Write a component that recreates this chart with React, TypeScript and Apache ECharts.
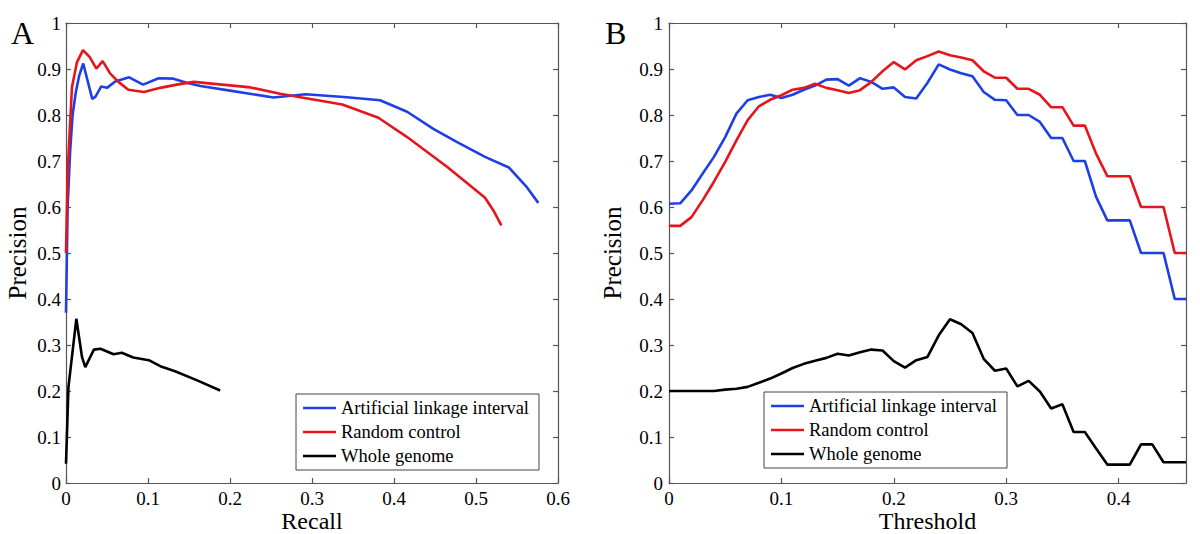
import React, { useEffect, useRef } from "react";
import * as echarts from "echarts";

const SERIES_NAMES = ["Artificial linkage interval", "Random control", "Whole genome"];
const COLORS = ["#1f3fe6", "#e6141b", "#000000"];

// Panel A: precision vs recall
const recallBlue = [0, 0.002, 0.005, 0.008, 0.012, 0.016, 0.021, 0.032, 0.036, 0.043, 0.05, 0.06, 0.077, 0.094, 0.113, 0.131, 0.147, 0.164, 0.2, 0.253, 0.292, 0.339, 0.383, 0.416, 0.448, 0.477, 0.511, 0.54, 0.562, 0.576];
const precisionBlue = [0.37, 0.6, 0.72, 0.8, 0.85, 0.885, 0.912, 0.835, 0.84, 0.862, 0.859, 0.873, 0.882, 0.866, 0.88, 0.879, 0.87, 0.863, 0.853, 0.838, 0.845, 0.839, 0.832, 0.807, 0.77, 0.741, 0.709, 0.686, 0.643, 0.609];
const recallRed = [0, 0.002, 0.0073, 0.0134, 0.0207, 0.029, 0.037, 0.0447, 0.054, 0.064, 0.076, 0.095, 0.115, 0.135, 0.156, 0.225, 0.261, 0.337, 0.381, 0.416, 0.465, 0.489, 0.511, 0.521, 0.531];
const precisionRed = [0.5, 0.676, 0.861, 0.915, 0.941, 0.926, 0.901, 0.917, 0.89, 0.872, 0.855, 0.85, 0.859, 0.866, 0.872, 0.86, 0.846, 0.823, 0.794, 0.752, 0.687, 0.652, 0.62, 0.593, 0.56];
const recallBlack = [0, 0.003, 0.0126, 0.0195, 0.0235, 0.034, 0.042, 0.058, 0.068, 0.082, 0.101, 0.115, 0.133, 0.16, 0.188];
const precisionBlack = [0.042, 0.209, 0.357, 0.274, 0.252, 0.29, 0.292, 0.28, 0.283, 0.273, 0.267, 0.254, 0.243, 0.223, 0.201];

// Panel B: precision vs threshold
const thresholds = [0, 0.01, 0.02, 0.03, 0.04, 0.05, 0.06, 0.07, 0.08, 0.09, 0.1, 0.11, 0.12, 0.13, 0.14, 0.15, 0.16, 0.17, 0.18, 0.19, 0.2, 0.21, 0.22, 0.23, 0.24, 0.25, 0.26, 0.27, 0.28, 0.29, 0.3, 0.31, 0.32, 0.33, 0.34, 0.35, 0.36, 0.37, 0.38, 0.39, 0.4, 0.41, 0.42, 0.43, 0.44, 0.45, 0.46];
const thrBlue = [0.607, 0.608, 0.636, 0.673, 0.709, 0.752, 0.803, 0.832, 0.839, 0.844, 0.837, 0.844, 0.855, 0.864, 0.877, 0.878, 0.864, 0.88, 0.872, 0.857, 0.86, 0.839, 0.836, 0.87, 0.91, 0.899, 0.891, 0.884, 0.85, 0.833, 0.832, 0.8, 0.8, 0.785, 0.75, 0.75, 0.7, 0.7, 0.622, 0.571, 0.571, 0.571, 0.5, 0.5, 0.5, 0.4, 0.4];
const thrRed = [0.559, 0.559, 0.578, 0.615, 0.655, 0.698, 0.745, 0.789, 0.819, 0.833, 0.843, 0.855, 0.859, 0.868, 0.859, 0.854, 0.848, 0.854, 0.872, 0.895, 0.915, 0.899, 0.919, 0.928, 0.938, 0.93, 0.925, 0.919, 0.895, 0.881, 0.881, 0.857, 0.857, 0.844, 0.817, 0.817, 0.777, 0.777, 0.716, 0.667, 0.667, 0.667, 0.6, 0.6, 0.6, 0.5, 0.5];
const thrBlack = [0.2, 0.2, 0.2, 0.2, 0.2, 0.203, 0.205, 0.209, 0.218, 0.227, 0.238, 0.25, 0.259, 0.266, 0.272, 0.281, 0.277, 0.284, 0.29, 0.288, 0.265, 0.251, 0.267, 0.274, 0.321, 0.356, 0.345, 0.326, 0.27, 0.244, 0.249, 0.21, 0.222, 0.199, 0.162, 0.171, 0.111, 0.111, 0.075, 0.04, 0.04, 0.04, 0.084, 0.084, 0.045, 0.045, 0.045];

const FONT = "'Liberation Serif', 'Times New Roman', Times, serif";
const AXIS_COLOR = "#555";

function zip(xs: number[], ys: number[]) {
  return xs.map((x, i) => [x, ys[i]]);
}

export default function App() {
  const ref = useRef<HTMLDivElement>(null);
  useEffect(() => {
    if (!ref.current) return;
    const chart = echarts.init(ref.current, undefined, { renderer: "svg" });

    const axisBase = {
      type: "value" as const,
      axisLine: { show: true, onZero: false, lineStyle: { color: AXIS_COLOR, width: 1.2 } },
      axisTick: { show: true, inside: true, length: 5, lineStyle: { color: AXIS_COLOR, width: 1.2 } },
      splitLine: { show: false },
      nameMoveOverlap: false,
    };
    const labelStyle = { color: "#000", fontFamily: FONT, fontSize: 19, lineHeight: 19 };
    const nameStyle = { color: "#000", fontFamily: FONT, fontSize: 24, lineHeight: 24 };

    const xAxes = [
      { ...axisBase, gridIndex: 0, position: "bottom", min: 0, max: 0.6, interval: 0.1,
        axisLabel: { ...labelStyle, margin: 6 }, name: "Recall", nameLocation: "middle", nameGap: 26, nameTextStyle: nameStyle },
      { ...axisBase, gridIndex: 0, position: "top", min: 0, max: 0.6, interval: 0.1, axisLabel: { show: false } },
      { ...axisBase, gridIndex: 1, position: "bottom", min: 0, max: 0.46, interval: 0.1,
        axisLabel: { ...labelStyle, margin: 6, showMaxLabel: false }, name: "Threshold", nameLocation: "middle", nameGap: 26, nameTextStyle: nameStyle },
      { ...axisBase, gridIndex: 1, position: "top", min: 0, max: 0.46, interval: 0.1, axisLabel: { show: false } },
    ];
    const yAxes = [
      { ...axisBase, gridIndex: 0, position: "left", min: 0, max: 1, interval: 0.1,
        axisLabel: { ...labelStyle, margin: 5 }, name: "Precision", nameLocation: "middle", nameGap: 36, nameTextStyle: { ...nameStyle, fontSize: 25, lineHeight: 25 } },
      { ...axisBase, gridIndex: 0, position: "right", min: 0, max: 1, interval: 0.1, axisLabel: { show: false } },
      { ...axisBase, gridIndex: 1, position: "left", min: 0, max: 1, interval: 0.1,
        axisLabel: { ...labelStyle, margin: 6 }, name: "Precision", nameLocation: "middle", nameGap: 44, nameTextStyle: { ...nameStyle, fontSize: 25, lineHeight: 25 } },
      { ...axisBase, gridIndex: 1, position: "right", min: 0, max: 1, interval: 0.1, axisLabel: { show: false } },
    ];

    const mk = (name: string, color: string, data: number[][], gi: number) => ({
      type: "line" as const,
      name,
      xAxisIndex: gi === 0 ? 0 : 2,
      yAxisIndex: gi === 0 ? 0 : 2,
      data,
      showSymbol: false,
      symbol: "none",
      lineStyle: { color, width: 2.6 },
      itemStyle: { color },
      z: 3,
    });

    const legendBase = {
      orient: "vertical" as const,
      data: SERIES_NAMES.map((n) => ({ name: n, icon: "rect" })),
      backgroundColor: "#fff",
      borderColor: "#444",
      borderWidth: 1,
      padding: [4, 10, 4, 7],
      itemWidth: 33,
      itemHeight: 2.6,
      itemGap: 4,
      selectedMode: false,
      textStyle: { color: "#000", fontFamily: FONT, fontSize: 18.5, lineHeight: 20 },
    };

    chart.setOption({
      animation: false,
      backgroundColor: "#fff",
      textStyle: { fontFamily: FONT },
      title: [
        { text: "A", left: 6, top: 12, textStyle: { fontFamily: FONT, fontSize: 32, fontWeight: "normal", color: "#000" } },
        { text: "B", left: 600, top: 12, textStyle: { fontFamily: FONT, fontSize: 32, fontWeight: "normal", color: "#000" } },
      ],
      grid: [
        { left: 66, top: 23, width: 492, height: 460, outerBoundsMode: "none", containLabel: false },
        { left: 669, top: 23, width: 517, height: 460, outerBoundsMode: "none", containLabel: false },
      ],
      xAxis: xAxes,
      yAxis: yAxes,
      legend: [
        { ...legendBase, left: 296, top: 394 },
        { ...legendBase, left: 764, top: 392 },
      ],
      series: [
        mk(SERIES_NAMES[0], COLORS[0], zip(recallBlue, precisionBlue), 0),
        mk(SERIES_NAMES[1], COLORS[1], zip(recallRed, precisionRed), 0),
        mk(SERIES_NAMES[2], COLORS[2], zip(recallBlack, precisionBlack), 0),
        mk(SERIES_NAMES[0], COLORS[0], zip(thresholds, thrBlue), 1),
        mk(SERIES_NAMES[1], COLORS[1], zip(thresholds, thrRed), 1),
        mk(SERIES_NAMES[2], COLORS[2], zip(thresholds, thrBlack), 1),
      ],
    });
    return () => chart.dispose();
  }, []);
  return <div ref={ref} style={{ position: "absolute", left: 0, top: 0, width: 1200, height: 534 }} />;
}
